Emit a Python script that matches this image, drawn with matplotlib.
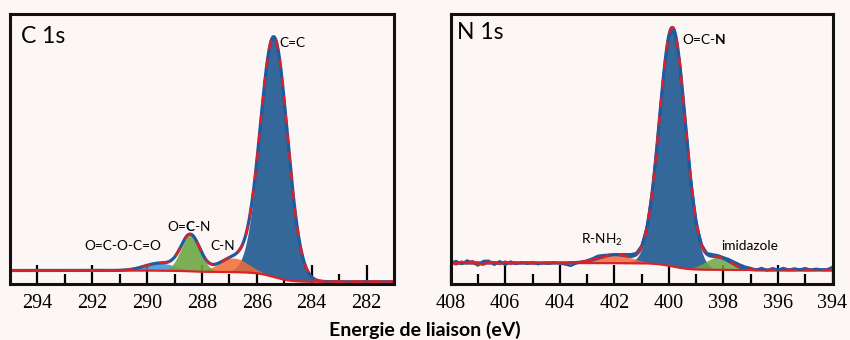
import numpy as np
import matplotlib
matplotlib.use('Agg')
import matplotlib.pyplot as plt

# ---------------- data ----------------
# C 1s fitted components: center (eV), height, FWHM (eV)
c_names = ['C=C', 'C-N', 'O=C-O-C=O', 'O=C-N']
c_centers = [285.38, 286.85, 289.53, 288.42]
c_heights = [240.0, 14.0, 7.5, 36.0]
c_fwhm = [1.16, 1.25, 1.3, 0.82]
c_bg_ends = [2.3, 13.5]          # background at low / high binding energy

# N 1s fitted components
n_names = ['O=C-N', 'R-NH2', 'imidazole']
n_centers = [399.87, 401.95, 398.2]
n_heights = [239.0, 8.5, 12.5]
n_fwhm = [1.12, 1.4, 1.1]
n_bg_ends = [14.0, 21.0]

# N 1s measured trace: deviation from the fit, every 0.2 eV from 408 to 394
n_step = 0.2
n_resid_blue = [0.0, 2.0, -1.0, 2.5, 0.5, -2.5, 2.0, 2.2, -1.8, 1.8,
                -2.0, 1.5, -1.0, 0.8, -0.8, 0.6, -1.2, 0.2, -0.8, 0.6,
                -0.4, -1.5, -3.0, -0.8, 0.0, 0.8, 1.5, 2.5, 1.5, 0.5,
                0.0, 0.5, 1.5, 2.0, 1.5, 1.0, 0.5, 0.0, 0.0, 0.0,
                0.0, 0.0, 0.0, 0.0, 0.0, 0.0, 0.5, 1.0, 2.0, 1.5,
                1.0, 2.0, 2.5, 2.5, 2.0, 1.5, 0.0, 2.0, -0.5, 1.8,
                0.2, 2.0, 0.2, 1.5, 0.5, 1.8, 0.2, 1.2, 0.3, 0.5,
                3.0]
# second (red) noisy trace on the high-BE side, 408 down to 402.6
n_resid_red = [0.5, -1.5, 1.5, -0.5, 2.0, -1.0, -1.8, 1.2, 0.8, -1.2,
               1.5, -0.8, 0.5, -0.5, 0.8, -0.6, 0.3, -0.5, 0.5, -0.3,
               0.2, -0.8, 0.6, -0.5, 0.4, 0.0, 0.5, 0.0]

c_ticks_major = [294, 292, 290, 288, 286, 284, 282]
c_ticks_minor = [293, 291, 289, 287, 285, 283]
n_ticks_major = [408, 406, 404, 402, 400, 398, 396, 394]
n_ticks_minor = [407, 405, 403, 401, 399, 397, 395]

# ---------------- styling ----------------
BG = '#fcf7f5'
DARKBLUE = '#35689a'
GREEN = '#6ea843'
ORANGE = '#f26a36'
LIGHTBLUE = '#3a94d2'
LINEBLUE = '#1d5aa0'
RED = '#d8232a'

plt.rcParams['mathtext.fontset'] = 'custom'
plt.rcParams['mathtext.rm'] = 'Lato'
plt.rcParams['mathtext.bf'] = 'Lato:bold'
plt.rcParams['font.family'] = ['Lato', 'DejaVu Sans']


def gauss(e, c, h, w):
    s = w / (2 * np.sqrt(2 * np.log(2)))
    return h * np.exp(-(e - c) ** 2 / (2 * s ** 2))


def shirley(e, comps, lo, hi):
    tot = np.sum(comps, axis=0)
    order = np.argsort(e)
    cum = np.cumsum(tot[order])
    frac = np.empty_like(cum)
    frac[order] = cum / cum[-1]
    return lo + (hi - lo) * frac


fig = plt.figure(figsize=(8.5, 3.4), dpi=100, facecolor=BG)
axC = fig.add_axes([10 / 850, 56 / 340, 384 / 850, 270 / 340])
axN = fig.add_axes([450.7 / 850, 56 / 340, 381.8 / 850, 270 / 340])

fill_colors_c = [DARKBLUE, ORANGE, LIGHTBLUE, GREEN]
fill_alpha_c = [1.0, 0.85, 0.85, 0.9]
fill_colors_n = [DARKBLUE, ORANGE, GREEN]
fill_alpha_n = [1.0, 0.85, 0.85]

# ---- C 1s ----
eC = np.linspace(295, 281, 1400)
compsC = np.array([gauss(eC, c, h, w) for c, h, w in zip(c_centers, c_heights, c_fwhm)])
bgC = shirley(eC, compsC, *c_bg_ends)
envC = bgC + compsC.sum(axis=0)
for comp, col, a in zip(compsC, fill_colors_c, fill_alpha_c):
    axC.fill_between(eC, bgC, bgC + comp, color=col, alpha=a, lw=0, zorder=2)
axC.plot(eC, envC, color=LINEBLUE, lw=2.3, zorder=3)
axC.plot(eC, bgC, color=RED, lw=1.6, zorder=4)
axC.plot(eC, envC, color=RED, lw=1.8, ls=(0, (4, 3.5)), zorder=5)

# ---- N 1s ----
eN = np.linspace(408, 394, 1400)
compsN = np.array([gauss(eN, c, h, w) for c, h, w in zip(n_centers, n_heights, n_fwhm)])
bgN = shirley(eN, compsN, *n_bg_ends)
envN = bgN + compsN.sum(axis=0)
for comp, col, a in zip(compsN, fill_colors_n, fill_alpha_n):
    axN.fill_between(eN, bgN, bgN + comp, color=col, alpha=a, lw=0, zorder=2)

eMeas = 408 - n_step * np.arange(len(n_resid_blue))
compsM = np.array([gauss(eMeas, c, h, w) for c, h, w in zip(n_centers, n_heights, n_fwhm)])
bgM = np.interp(eMeas[::-1], eN[::-1], bgN[::-1])[::-1]
envM = bgM + compsM.sum(axis=0)
axN.plot(eN, envN, color=LINEBLUE, lw=2.3, zorder=3)
axN.plot(eN, bgN, color=RED, lw=1.6, zorder=4)
axN.plot(eMeas, envM + np.array(n_resid_blue), color=LINEBLUE, lw=1.8, zorder=4.5)
nr = len(n_resid_red)
axN.plot(eMeas[:nr], envM[:nr] + np.array(n_resid_red), color=RED, lw=1.6, zorder=4.6)
axN.plot(eN, envN, color=RED, lw=1.8, ls=(0, (4, 3.5)), zorder=5)

# ---- axes styling ----
for ax, xl, maj, mnr in [(axC, (295, 281), c_ticks_major, c_ticks_minor),
                          (axN, (408, 394), n_ticks_major, n_ticks_minor)]:
    ax.set_facecolor(BG)
    ax.set_xlim(*xl)
    ax.set_ylim(0, 270)
    ax.set_yticks([])
    ax.set_xticks(maj)
    ax.set_xticks(mnr, minor=True)
    ax.set_xticklabels([str(t) for t in maj], family='Liberation Serif', fontsize=14.5)
    ax.tick_params(axis='x', which='major', direction='in', length=13.5, width=1.6,
                   pad=7, color='black')
    ax.tick_params(axis='x', which='minor', direction='in', length=7.5, width=1.6,
                   color='black')
    for sp in ax.spines.values():
        sp.set_linewidth(2.2)
        sp.set_color('#111111')
        sp.set_zorder(10)

# ---- texts ----
axC.text(0.028, 0.916, 'C 1s', transform=axC.transAxes, fontsize=16.5, ha='left', va='center')
axN.text(0.0165, 0.932, 'N 1s', transform=axN.transAxes, fontsize=16.5, ha='left', va='center')

ann = dict(fontsize=9.8, zorder=6)
axC.text(285.17, 241, 'C=C', ha='left', va='center', **ann)
axC.text(288.47, 58, r'O=$\mathbf{C}$-N', ha='center', va='center', **ann)
axC.text(287.23, 38, 'C-N', ha='center', va='center', **ann)
axC.text(290.9, 37.5, 'O=C-O-C=O', ha='center', va='center', **ann)

axN.text(399.53, 245, r'O=C-$\mathbf{N}$', ha='left', va='center', **ann)
axN.text(402.46, 44.7, r'R-NH$_2$', ha='center', va='center', **ann)
axN.text(397.02, 38, 'imidazole', ha='center', va='center', **ann)

fig.text(0.5, 0.03, 'Energie de liaison (eV)', ha='center', va='center',
         fontsize=14, fontweight='bold')

fig.savefig('out.png', dpi=100, facecolor=BG)
